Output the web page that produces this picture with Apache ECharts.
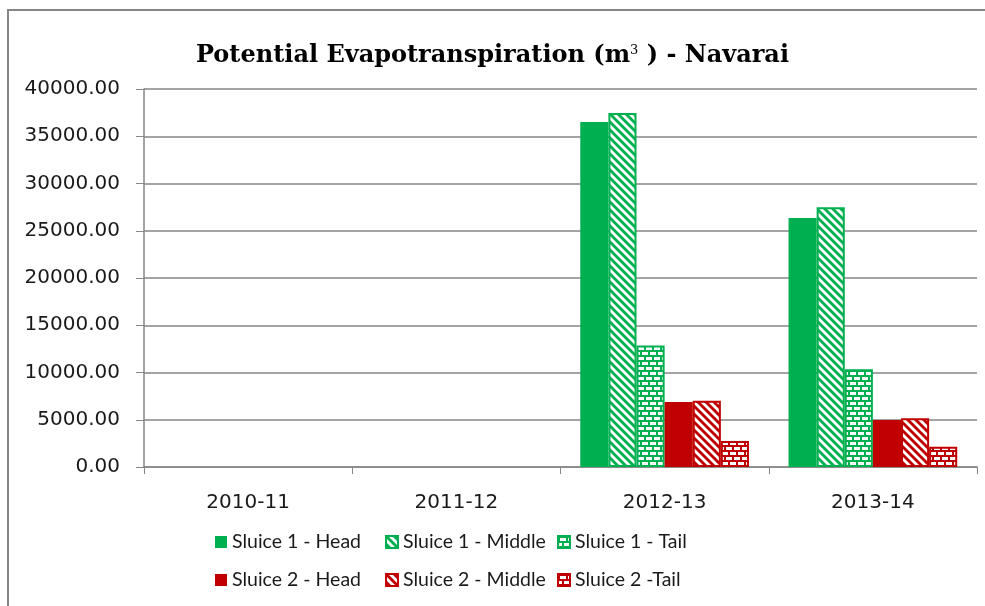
<!DOCTYPE html>
<html>
<head>
<meta charset="utf-8">
<script src="https://cdn.jsdelivr.net/npm/echarts@6.0.0/dist/echarts.min.js"></script>
<style>
  html, body { margin: 0; padding: 0; background: #fff; }
  #main { width: 985px; height: 606px; }
</style>
</head>
<body>
<div id="main"></div>
<script>
// data
const years = ['2010-11', '2011-12', '2012-13', '2013-14'];
const s1Head = [null, null, 36500, 26350];
const s1Middle = [null, null, 37450, 27480];
const s1Tail = [null, null, 12850, 10340];
const s2Head = [null, null, 6880, 4970];
const s2Middle = [null, null, 7020, 5150];
const s2Tail = [null, null, 2750, 2150];

const GREEN = '#00B050';
const RED = '#C00000';

// diagonal stripe fill
function stripe(color) {
    const c = document.createElement('canvas');
    c.width = 8; c.height = 8;
    const ctx = c.getContext('2d');
    ctx.fillStyle = '#fff';
    ctx.fillRect(0, 0, 8, 8);
    ctx.strokeStyle = color;
    ctx.lineWidth = 2.8;
    for (let x0 = -8; x0 <= 8; x0 += 8) {
        ctx.beginPath();
        ctx.moveTo(x0 - 1, -1);
        ctx.lineTo(x0 + 9, 9);
        ctx.stroke();
    }
    return { image: c, repeat: 'repeat' };
}

// brick fill
function brick(color) {
    const c = document.createElement('canvas');
    c.width = 8; c.height = 10;
    const ctx = c.getContext('2d');
    ctx.fillStyle = color;
    ctx.fillRect(0, 0, 8, 10);
    ctx.fillStyle = '#fff';
    ctx.fillRect(2, 2, 6, 3);
    ctx.fillRect(6, 7, 2, 3);
    ctx.fillRect(0, 7, 4, 3);
    return { image: c, repeat: 'repeat' };
}

const legendFont = { fontFamily: 'Lato', fontSize: 19.5, color: '#1a1a1a' };

function legendAt(name, left, top) {
    return {
        data: [name],
        left: left,
        top: top,
        padding: 0,
        icon: 'rect',
        itemWidth: 12,
        itemHeight: 12,
        itemGap: 0,
        textStyle: legendFont,
        selectedMode: false
    };
}

function bar(name, data, color, border) {
    return {
        name: name,
        type: 'bar',
        data: data,
        barGap: '0%',
        barCategoryGap: '19%',
        itemStyle: border
            ? { color: color, borderColor: border, borderWidth: 2 }
            : { color: color },
        emphasis: { disabled: true }
    };
}

const chart = echarts.init(document.getElementById('main'));
chart.setOption({
    animation: false,
    backgroundColor: '#fff',
    title: {
        text: '{a|Potential Evapotranspiration (m}{s|3}{a| ) - Navarai}',
        left: 'center',
        top: 39,
        textStyle: {
            rich: {
                a: { fontFamily: 'DejaVu Serif', fontSize: 24, fontWeight: 'bold', color: '#000' },
                s: { fontFamily: 'DejaVu Serif', fontSize: 13, fontWeight: 'normal', color: '#000', verticalAlign: 'top', padding: [0, 0, 11, 0] }
            }
        }
    },
    graphic: [{
        type: 'rect',
        shape: { x: 8, y: 10, width: 1000, height: 700 },
        style: { fill: 'none', stroke: '#868686', lineWidth: 2 },
        silent: true
    }],
    legend: [
        legendAt('Sluice 1 - Head', 215, 532),
        legendAt('Sluice 1 - Middle', 385, 532),
        legendAt('Sluice 1 - Tail', 557, 532),
        legendAt('Sluice 2 - Head', 215, 570),
        legendAt('Sluice 2 - Middle', 385, 570),
        legendAt('Sluice 2 -Tail', 557, 570)
    ],
    grid: { left: 144, right: 8, top: 89, bottom: 139 },
    xAxis: {
        type: 'category',
        data: years,
        axisLine: { lineStyle: { color: '#868686', width: 1.5 } },
        axisTick: { show: true, length: 7, lineStyle: { color: '#868686' } },
        axisLabel: { margin: 26, fontFamily: 'DejaVu Sans', fontSize: 20, color: '#1a1a1a' }
    },
    yAxis: {
        type: 'value',
        min: 0,
        max: 40000,
        interval: 5000,
        axisLine: { show: true, lineStyle: { color: '#868686', width: 1.5 } },
        axisTick: { show: true, length: 8, lineStyle: { color: '#868686' } },
        splitLine: { lineStyle: { color: '#868686', width: 1.5 } },
        axisLabel: {
            margin: 24,
            fontFamily: 'DejaVu Sans',
            fontSize: 20,
            color: '#1a1a1a',
            formatter: v => v.toFixed(2)
        }
    },
    series: [
        bar('Sluice 1 - Head', s1Head, GREEN),
        bar('Sluice 1 - Middle', s1Middle, stripe(GREEN), GREEN),
        bar('Sluice 1 - Tail', s1Tail, brick(GREEN), GREEN),
        bar('Sluice 2 - Head', s2Head, RED),
        bar('Sluice 2 - Middle', s2Middle, stripe(RED), RED),
        bar('Sluice 2 -Tail', s2Tail, brick(RED), RED)
    ]
});
</script>
</body>
</html>
